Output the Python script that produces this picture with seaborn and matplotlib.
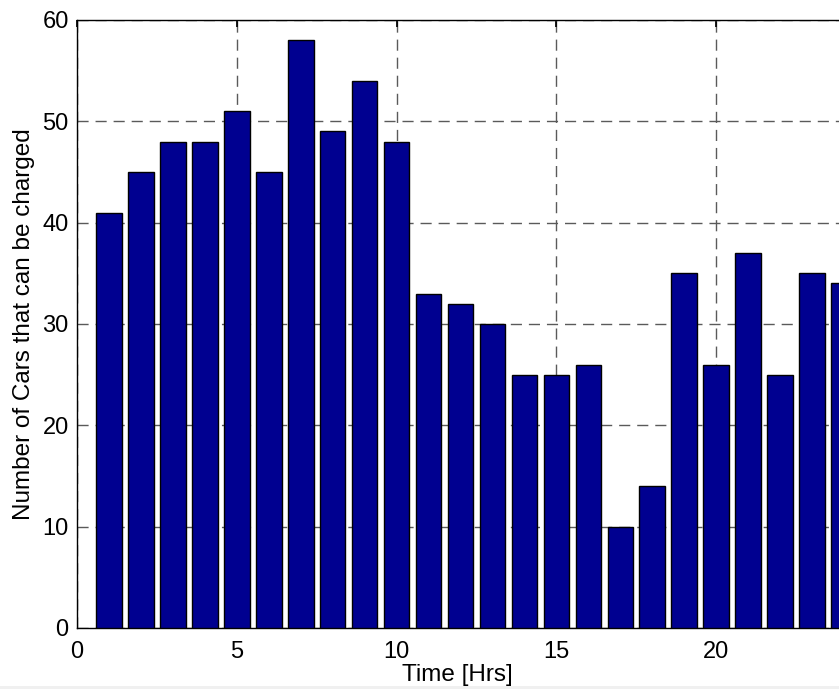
import matplotlib
matplotlib.use("Agg")
import matplotlib.pyplot as plt
import seaborn as sns
import pandas as pd
from matplotlib.patches import Rectangle

hours = list(range(1, 25))
cars = [41, 45, 48, 48, 51, 45, 58, 49, 54, 48, 33, 32,
        30, 25, 25, 26, 10, 14, 35, 26, 37, 25, 35, 34]
x_ticks = [0, 5, 10, 15, 20]
y_ticks = [0, 10, 20, 30, 40, 50, 60]

sns.set_theme(style="white")
plt.rcParams["font.family"] = ["Liberation Sans", "DejaVu Sans"]

df = pd.DataFrame({"hour": hours, "cars": cars})

W, H = 839, 689
fig = plt.figure(figsize=(W / 100, H / 100), dpi=100)
ax = fig.add_axes([77 / W, 61 / H, 799 / W, 608 / H])

sns.barplot(data=df, x="hour", y="cars", native_scale=True, width=0.8,
            color="#000090", saturation=1, edgecolor="black", linewidth=1.0,
            ax=ax, zorder=3)

ax.set_xlim(0, 25)
ax.set_ylim(0, 60)
ax.set_xticks(x_ticks)
ax.set_yticks(y_ticks)
ax.tick_params(axis="both", labelsize=17, colors="black", direction="in",
               length=5, top=True, right=True)
ax.tick_params(axis="x", pad=9)
ax.tick_params(axis="y", pad=6)
ax.grid(True, linestyle=(0, (8, 5)), color="#5a5a5a", linewidth=1.0, zorder=0)
ax.set_axisbelow(True)
for s in ax.spines.values():
    s.set_color("black")
    s.set_linewidth(1.0)

ax.set_xlabel("Time [Hrs]", fontsize=17.5, color="black")
ax.set_ylabel("Number of Cars that can be charged", fontsize=17.5, color="black")
ax.xaxis.set_label_coords(0.476, -0.059)
ax.yaxis.set_label_coords(-0.053, 0.5)

fig.patches.append(Rectangle((0, 0), 1, 3 / H, transform=fig.transFigure,
                             facecolor="#f0f0f0", edgecolor="none"))

fig.savefig("out.png", dpi=100)
